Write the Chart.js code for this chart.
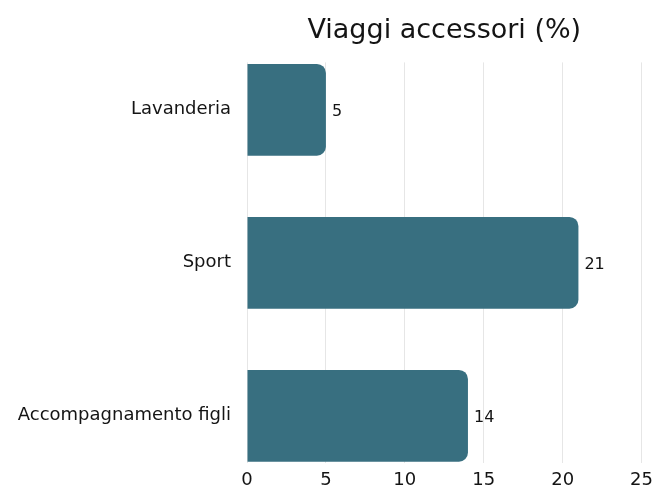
<!DOCTYPE html>
<html>
<head>
<meta charset="utf-8">
<script src="https://cdn.jsdelivr.net/npm/chart.js@4"></script>
<style>
  html, body { margin: 0; padding: 0; background: #fff; }
  #wrap { width: 659px; height: 490px; }
</style>
</head>
<body>
<div id="wrap"><canvas id="chart"></canvas></div>
<script>
const CATEGORIE = ['Lavanderia', 'Sport', 'Accompagnamento figli'];
const VALORI = [5, 21, 14];
const TICK_X = [0, 5, 10, 15, 20, 25];
const FONT = "'DejaVu Sans', sans-serif";

// etichette a destra delle barre
const etichette = {
    id: 'etichette',
    afterDatasetsDraw(chart) {
        const ctx = chart.ctx;
        const meta = chart.getDatasetMeta(0);
        ctx.save();
        ctx.font = '16px ' + FONT;
        ctx.fillStyle = '#141414';
        ctx.textAlign = 'left';
        ctx.textBaseline = 'middle';
        meta.data.forEach((bar, i) => {
            ctx.fillText(String(VALORI[i]), bar.x + 6, bar.y + 2);
        });
        ctx.restore();
    }
};

new Chart(document.getElementById('chart'), {
    type: 'bar',
    data: {
        datasets: [{
            data: VALORI.map((v, i) => ({ x: v, y: i })),
            backgroundColor: '#386f80',
            borderRadius: { topRight: 9, bottomRight: 9 },
            borderSkipped: 'left',
            barPercentage: 0.6,
            categoryPercentage: 1
        }]
    },
    options: {
        indexAxis: 'y',
        responsive: true,
        maintainAspectRatio: false,
        animation: false,
        layout: { padding: { left: 0, right: 9, top: 0, bottom: -7 } },
        plugins: {
            legend: { display: false },
            tooltip: { enabled: false },
            title: {
                display: true,
                fullSize: false,
                text: 'Viaggi accessori (%)',
                color: '#141414',
                font: { family: FONT, size: 27, weight: 'normal' },
                padding: { top: 15, bottom: 15 },
                align: 'center'
            }
        },
        scales: {
            x: {
                type: 'linear',
                min: 0, max: 25,
                afterBuildTicks: s => { s.ticks = TICK_X.map(v => ({ value: v })); },
                grid: { color: '#e6e6e6', drawTicks: false },
                border: { display: false },
                ticks: { color: '#141414', font: { family: FONT, size: 18 }, padding: 6 }
            },
            y: {
                type: 'linear',
                reverse: true,
                offset: false,
                min: -0.31, max: 2.31,
                afterBuildTicks: s => { s.ticks = CATEGORIE.map((_, i) => ({ value: i })); },
                afterFit: s => { s.width = 247; },
                grid: { display: false, drawTicks: false },
                border: { display: false },
                ticks: {
                    color: '#141414',
                    font: { family: FONT, size: 18 },
                    padding: 16,
                    callback: v => CATEGORIE[v]
                }
            }
        }
    },
    plugins: [etichette]
});
</script>
</body>
</html>
